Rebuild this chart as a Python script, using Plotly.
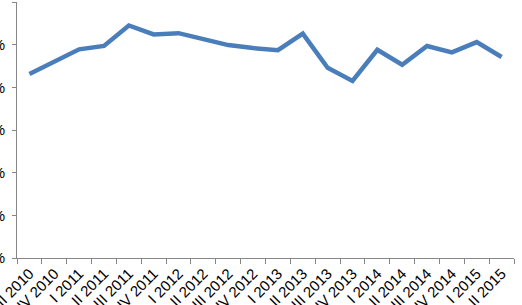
import plotly.graph_objects as go

quarters = ["III 2010", "IV 2010",
            "I 2011", "II 2011", "III 2011", "IV 2011",
            "I 2012", "II 2012", "III 2012", "IV 2012",
            "I 2013", "II 2013", "III 2013", "IV 2013",
            "I 2014", "II 2014", "III 2014", "IV 2014",
            "I 2015", "II 2015"]
values = [43.1, 46.0, 48.9, 49.7, 54.5, 52.4, 52.7, 51.3, 49.9, 49.2,
          48.7, 52.6, 44.6, 41.5, 48.8, 45.3, 49.7, 48.2, 50.6, 47.1]
y_ticks = [0, 10, 20, 30, 40, 50, 60]
y_labels = ["0%", "10%", "20%", "30%", "40%", "50%", "60%"]

fig = go.Figure(go.Scatter(
    x=quarters, y=values, mode="lines",
    line=dict(color="#4A7EBB", width=4.5),
))
fig.update_layout(
    width=522, height=305,
    margin=dict(l=17, r=8, t=2, b=47, autoexpand=False),
    paper_bgcolor="white", plot_bgcolor="white",
    showlegend=False,
    font=dict(family="Liberation Sans", size=15, color="#000000"),
)
fig.update_xaxes(
    type="category", tickangle=-45, tickson="boundaries",
    ticks="outside", ticklen=5, tickcolor="#868686",
    showline=True, linecolor="#868686", linewidth=1,
    showgrid=False, automargin=False,
    tickfont=dict(size=15),
    range=[-0.5, len(quarters) - 0.5],
)
fig.update_yaxes(
    range=[0, 60], tickvals=y_ticks, ticktext=y_labels,
    ticks="outside", ticklen=4, tickcolor="#868686",
    showline=True, linecolor="#868686", linewidth=1,
    showgrid=False, zeroline=False, automargin=False,
    tickfont=dict(size=15), ticklabelstandoff=4,
)
fig.write_html("out.html")
